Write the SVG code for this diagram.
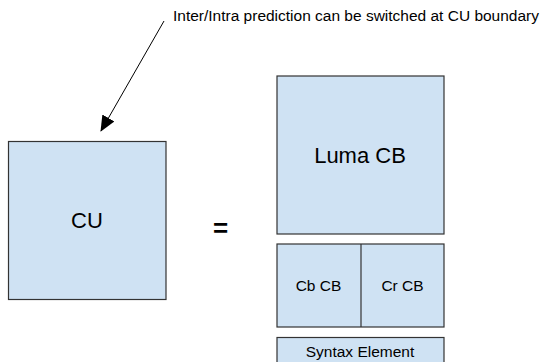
<svg xmlns="http://www.w3.org/2000/svg" width="541" height="362" viewBox="0 0 541 362">
<style>
.box{fill:#cfe2f3;stroke:#333333;stroke-width:1.2}
.t{font-family:"Liberation Sans",Arial,sans-serif;fill:#000;text-anchor:middle}
</style>
<defs>
<marker id="ah" markerWidth="16" markerHeight="14" refX="15" refY="7" orient="auto" markerUnits="userSpaceOnUse" viewBox="0 0 16 14">
<path d="M0,0 L16,7 L0,14 z" fill="#000"/>
</marker>
</defs>
<rect width="541" height="362" fill="#fff"/>
<g id="connectors">
<line x1="164" y1="21" x2="101" y2="131" stroke="#000" stroke-width="1" marker-end="url(#ah)"/>
</g>
<g id="note">
<text x="173" y="21" font-family="Liberation Sans,Arial,sans-serif" font-size="14" textLength="366" lengthAdjust="spacingAndGlyphs">Inter/Intra prediction can be switched at CU boundary</text>
</g>
<g id="cu">
<rect class="box" x="8.5" y="141.5" width="157.5" height="158"/>
<text class="t" x="87" y="228" font-size="22">CU</text>
</g>
<g id="equals">
<text class="t" x="220.5" y="237" font-size="26" font-weight="bold">=</text>
</g>
<g id="luma">
<rect class="box" x="277" y="76" width="167" height="158"/>
<text class="t" x="360" y="163" font-size="22">Luma CB</text>
</g>
<g id="chroma">
<rect class="box" x="277" y="244" width="167" height="83"/>
<line x1="361" y1="244" x2="361" y2="327" stroke="#333" stroke-width="1.2"/>
<text class="t" x="318.5" y="291" font-size="15.5">Cb CB</text>
<text class="t" x="402.5" y="291" font-size="15.5">Cr CB</text>
</g>
<g id="syntax">
<rect class="box" x="277" y="337.5" width="167" height="30"/>
<text class="t" x="360" y="356.5" font-size="15.5">Syntax Element</text>
</g>
</svg>
